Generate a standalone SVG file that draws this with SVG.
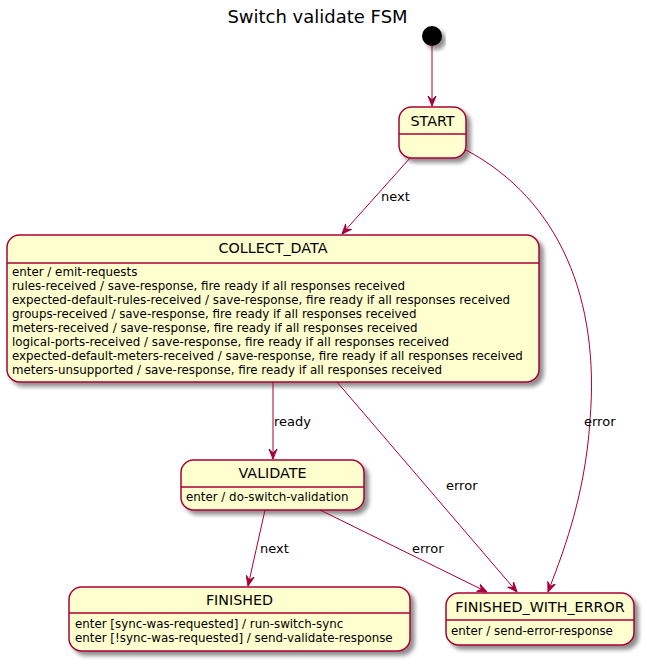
<svg xmlns="http://www.w3.org/2000/svg" width="647" height="664" viewBox="0 0 647 664">
<defs>
<filter id="sh" x="-10%" y="-10%" width="130%" height="140%">
<feGaussianBlur in="SourceAlpha" stdDeviation="2"/>
<feOffset dx="4" dy="4" result="b"/>
<feComponentTransfer><feFuncA type="linear" slope="0.45"/></feComponentTransfer>
<feMerge><feMergeNode/><feMergeNode in="SourceGraphic"/></feMerge>
</filter>
<marker id="ah" viewBox="0 0 10 10" refX="10" refY="5" markerWidth="10" markerHeight="10" markerUnits="userSpaceOnUse" orient="auto">
<path d="M0,1 L10,5 L0,9 L4,5 z" fill="#A80036" stroke="#A80036" stroke-width="1"/>
</marker>
</defs>
<style>
.st{fill:#FEFECE;stroke:#A80036;stroke-width:1.5}
.dv{stroke:#A80036;stroke-width:1.5}
.nm{font-family:"DejaVu Sans",sans-serif;font-size:14.3px;fill:#000;text-anchor:middle}
.bd{font-family:"DejaVu Sans",sans-serif;font-size:11.85px;fill:#000}
.lb{font-family:"DejaVu Sans",sans-serif;font-size:13px;fill:#000}
.cn{fill:none;stroke:#A80036;stroke-width:1;marker-end:url(#ah)}
</style>
<rect width="647" height="664" fill="#FFFFFF"/>
<text x="317.5" y="23" font-family="DejaVu Sans,sans-serif" font-size="18" text-anchor="middle">Switch validate FSM</text>

<g id="initial"><circle cx="432" cy="36" r="10" fill="#000" filter="url(#sh)"/></g>

<g id="START">
<rect class="st" x="399" y="107" width="67" height="51" rx="12.5" filter="url(#sh)"/>
<line class="dv" x1="399" y1="134" x2="466" y2="134"/>
<text class="nm" x="432.5" y="126">START</text>
</g>

<g id="COLLECT_DATA">
<rect class="st" x="7" y="235" width="532" height="147" rx="12.5" filter="url(#sh)"/>
<line class="dv" x1="7" y1="263" x2="539" y2="263"/>
<text class="nm" x="273" y="253">COLLECT_DATA</text>
<text class="bd" x="12" y="276">enter / emit-requests</text>
<text class="bd" x="12" y="290">rules-received / save-response, fire ready if all responses received</text>
<text class="bd" x="12" y="304">expected-default-rules-received / save-response, fire ready if all responses received</text>
<text class="bd" x="12" y="318">groups-received / save-response, fire ready if all responses received</text>
<text class="bd" x="12" y="332">meters-received / save-response, fire ready if all responses received</text>
<text class="bd" x="12" y="346">logical-ports-received / save-response, fire ready if all responses received</text>
<text class="bd" x="12" y="360">expected-default-meters-received / save-response, fire ready if all responses received</text>
<text class="bd" x="12" y="374">meters-unsupported / save-response, fire ready if all responses received</text>
</g>

<g id="VALIDATE">
<rect class="st" x="181" y="460" width="183" height="50" rx="12.5" filter="url(#sh)"/>
<line class="dv" x1="181" y1="487" x2="364" y2="487"/>
<text class="nm" x="272.5" y="478">VALIDATE</text>
<text class="bd" x="186" y="501">enter / do-switch-validation</text>
</g>

<g id="FINISHED">
<rect class="st" x="69" y="587" width="341" height="64" rx="12.5" filter="url(#sh)"/>
<line class="dv" x1="69" y1="613" x2="410" y2="613"/>
<text class="nm" x="239.5" y="605">FINISHED</text>
<text class="bd" x="75" y="628">enter [sync-was-requested] / run-switch-sync</text>
<text class="bd" x="75" y="642">enter [!sync-was-requested] / send-validate-response</text>
</g>

<g id="FINISHED_WITH_ERROR">
<rect class="st" x="446" y="593" width="188" height="52" rx="12.5" filter="url(#sh)"/>
<line class="dv" x1="446" y1="620" x2="634" y2="620"/>
<text class="nm" x="540" y="612">FINISHED_WITH_ERROR</text>
<text class="bd" x="451" y="635">enter / send-error-response</text>
</g>

<g id="connectors">
<path class="cn" d="M432,46 L432,106"/>
<path class="cn" d="M410,158 L342,234"/>
<text class="lb" x="381" y="201">next</text>
<path class="cn" d="M466,150 C560,200 600,300 590,420 C585,500 560,560 548,592"/>
<text class="lb" x="584" y="426">error</text>
<path class="cn" d="M273,382 L273,459"/>
<text class="lb" x="274" y="426">ready</text>
<path class="cn" d="M337,382 L517,592"/>
<text class="lb" x="446" y="490">error</text>
<path class="cn" d="M265,510 L248,586"/>
<text class="lb" x="260" y="553">next</text>
<path class="cn" d="M320,510 L487,592"/>
<text class="lb" x="412" y="553">error</text>
</g>
</svg>
